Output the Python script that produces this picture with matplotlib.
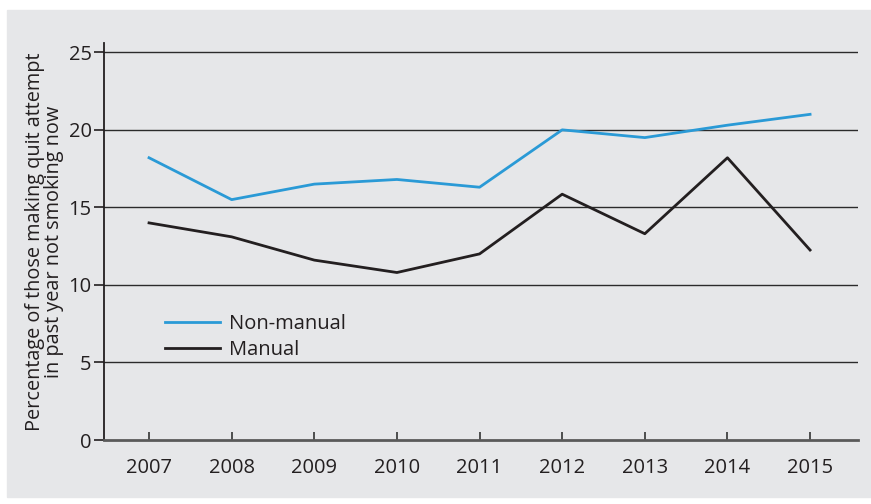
import matplotlib
matplotlib.use("Agg")
import matplotlib.pyplot as plt
from matplotlib.patches import Rectangle

# years on the x axis
years = [2007, 2008, 2009, 2010, 2011, 2012, 2013, 2014, 2015]

# percentage of quit attempters not smoking now
non_manual = [18.2, 15.5, 16.5, 16.8, 16.3, 20.0, 19.5, 20.3, 21.0]
manual = [14.0, 13.1, 11.6, 10.8, 12.0, 15.85, 13.3, 18.2, 12.25]

y_ticks = [0, 5, 10, 15, 20, 25]

bg = '#e6e7e9'
blue = '#2a9ad6'
dark = '#231f20'

plt.rcParams['font.family'] = ['Open Sans', 'DejaVu Sans']

fig = plt.figure(figsize=(8.71, 5.04), dpi=100)
fig.patch.set_facecolor('white')
# grey panel behind the chart
fig.patches.append(Rectangle((7 / 871, 1 - 497 / 504), 1, 487 / 504,
                             transform=fig.transFigure, color=bg, zorder=-10))

ax = fig.add_axes([104 / 871, 1 - 440 / 504, 754 / 871, 397 / 504])
ax.set_facecolor('none')

# horizontal gridlines
for v in y_ticks[1:]:
    ax.axhline(v, color='#2b2b2b', lw=1.0, zorder=1)

ax.plot(years, non_manual, color=blue, lw=2.0, label='Non-manual', zorder=3)
ax.plot(years, manual, color=dark, lw=2.0, label='Manual', zorder=3)

ax.set_xlim(2006.455, 2015.58)
ax.set_ylim(0, 25.6)
ax.set_xticks(years)
ax.set_yticks(y_ticks)

for s in ['top', 'right']:
    ax.spines[s].set_visible(False)
ax.spines['left'].set_color(dark)
ax.spines['left'].set_linewidth(1.3)
ax.spines['bottom'].set_color('#5a5a5a')
ax.spines['bottom'].set_linewidth(2.0)

ax.tick_params(axis='x', direction='in', length=6, width=1.2, color='#333333',
               labelsize=14.5, labelcolor=dark, pad=13)
ax.tick_params(axis='y', direction='out', length=7, width=1.2, color=dark,
               labelsize=14.5, labelcolor=dark, pad=2)

ax.set_ylabel('Percentage of those making quit attempt\nin past year not smoking now',
              fontsize=14.3, color=dark, linespacing=0.95, labelpad=3)

leg = ax.legend(loc='upper left', bbox_to_anchor=(0.081, 0.318), frameon=False,
                fontsize=14.5, handlelength=2.75, handletextpad=0.4,
                labelspacing=0.3, borderpad=0, borderaxespad=0)
for t in leg.get_texts():
    t.set_color(dark)

fig.savefig('out.png', dpi=100, facecolor=fig.get_facecolor())
